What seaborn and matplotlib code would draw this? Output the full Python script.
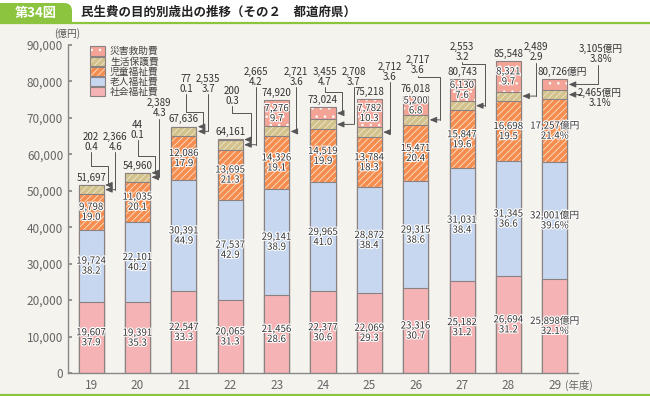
import numpy as np
import pandas as pd
import matplotlib
matplotlib.use("Agg")
import matplotlib.pyplot as plt
import seaborn as sns
from matplotlib.patches import Rectangle, FancyBboxPatch
from matplotlib import font_manager
import matplotlib.patheffects as pe

# ---------------- data ----------------
years = ["19", "20", "21", "22", "23", "24", "25", "26", "27", "28", "29"]
series_names = ["社会福祉費", "老人福祉費", "児童福祉費", "生活保護費", "災害救助費"]

shakai = [19607, 19391, 22547, 20065, 21456, 22377, 22069, 23316, 25182, 26694, 25898]
rojin = [19724, 22101, 30391, 27537, 29141, 29965, 28872, 29315, 31031, 31345, 32001]
jido = [9798, 11035, 12086, 13695, 14326, 14519, 13784, 15471, 15847, 16698, 17257]
seikatsu = [2366, 2389, 2535, 2665, 2721, 2708, 2712, 2717, 2553, 2489, 2465]
saigai = [202, 44, 77, 200, 7276, 3455, 7782, 5200, 6130, 8321, 3105]
totals = [51697, 54960, 67636, 64161, 74920, 73024, 75218, 76018, 80743, 85548, 80726]

shakai_pct = [37.9, 35.3, 33.3, 31.3, 28.6, 30.6, 29.3, 30.7, 31.2, 31.2, 32.1]
rojin_pct = [38.2, 40.2, 44.9, 42.9, 38.9, 41.0, 38.4, 38.6, 38.4, 36.6, 39.6]
jido_pct = [19.0, 20.1, 17.9, 21.3, 19.1, 19.9, 18.3, 20.4, 19.6, 19.5, 21.4]
seikatsu_pct = [4.6, 4.3, 3.7, 4.2, 3.6, 3.7, 3.6, 3.6, 3.2, 2.9, 3.1]
saigai_pct = [0.4, 0.1, 0.1, 0.3, 9.7, 4.7, 10.3, 6.8, 7.6, 9.7, 3.8]

values = [shakai, rojin, jido, seikatsu, saigai]
pcts = [shakai_pct, rojin_pct, jido_pct, seikatsu_pct, saigai_pct]

# ---------------- style ----------------
sns.set_theme(style="white")
plt.rcParams["font.family"] = ["Noto Sans CJK JP", "DejaVu Sans"]
plt.rcParams["hatch.linewidth"] = 0.6

installed = {f.name for f in font_manager.fontManager.ttflist}
if "Liberation Sans Narrow" in installed:
    NUMFAM = ["Liberation Sans Narrow", "Noto Sans CJK JP", "DejaVu Sans"]
    FS = 8.0
else:
    NUMFAM = ["Noto Sans CJK JP", "DejaVu Sans"]
    FS = 7.0

BG = "#f5f3ee"
GREEN = "#8cc43f"
EDGE = "#8a8282"
LINE = "#555555"
TXT = "#333333"
W = 0.54

styles = [
    dict(fc="#f5b3b5", hatch=None, hc=None),
    dict(fc="#c7d7ef", hatch=None, hc=None),
    dict(fc="#f58d4f", hatch="/////", hc="#fde2cf"),
    dict(fc="#d3c28c", hatch="/////", hc="#efe8cf"),
    dict(fc="#f3a497", hatch="..", hc="white"),
]

fig = plt.figure(figsize=(6.5, 3.96), dpi=100, facecolor=BG)
ax = fig.add_axes([68 / 650, 23 / 396, 510 / 650, 328 / 396])
ax.set_facecolor(BG)

vals = np.array(values, dtype=float)
cums = np.cumsum(vals, axis=0)

# stacked bars: draw cumulative heights from the top layer downward
for k in range(4, -1, -1):
    st = styles[k]
    df = pd.DataFrame({"year": years, "v": cums[k]})
    sns.barplot(data=df, x="year", y="v", color=st["fc"], saturation=1, width=W,
                errorbar=None, linewidth=0, edgecolor=st["hc"] or st["fc"],
                hatch=st["hatch"], ax=ax)
    sns.barplot(data=df, x="year", y="v", color=EDGE, fill=False, width=W,
                errorbar=None, linewidth=0.8, ax=ax)

ax.set_xlim(-0.5, 10.5)
ax.set_ylim(0, 90000)
ax.set_xlabel("")
ax.set_ylabel("")
ax.set_yticks(np.arange(0, 90001, 10000))
ax.set_yticklabels([f"{v:,}" for v in range(0, 90001, 10000)])
ax.tick_params(axis="y", direction="in", length=3, color="#888888", labelsize=8.5,
               labelcolor="#666666", pad=3.5, left=True)
ax.tick_params(axis="x", length=0, labelsize=8.5, labelcolor="#666666", pad=4)
for s in ["top", "right"]:
    ax.spines[s].set_visible(False)
for s in ["left", "bottom"]:
    ax.spines[s].set_color("#888888")
    ax.spines[s].set_linewidth(1.0)

halo = [pe.withStroke(linewidth=1.6, foreground="white")]
last = len(years) - 1


def fmt(v, p, i):
    if i == last:
        return f"{v:,}億円\n{p:.1f}%"
    return f"{v:,}\n{p:.1f}"


def num_text(x, y, s, **kw):
    kw.setdefault("ha", "center")
    kw.setdefault("va", "center")
    return ax.text(x, y, s, fontsize=FS, color=TXT, linespacing=1.0,
                   family=NUMFAM, zorder=5, **kw)


# inside labels
for k in range(5):
    for i in range(len(years)):
        v = values[k][i]
        if v < 4000:
            continue
        bottom = cums[k - 1][i] if k > 0 else 0
        mid = bottom + v / 2
        num_text(i, mid, fmt(v, pcts[k][i], i), path_effects=halo)

# totals
for i, t in enumerate(totals):
    lab = f"{t:,}億円" if i == last else f"{t:,}"
    xo = 0.17 if i == last else 0.0
    ax.annotate(lab, xy=(i + xo, t), xytext=(0, 1.5), textcoords="offset points",
                ha="center", va="bottom", fontsize=FS, color=TXT, family=NUMFAM, zorder=5)

# callouts: (year index, layer, label dx, label y, route, x_turn, y_turn)
callouts = [
    (0, 4, 0.00, 63500, "over", 0.37, 56800),
    (0, 3, 0.52, 63500, "down", None, None),
    (1, 4, 0.00, 66800, "over", 0.38, 59500),
    (1, 3, 0.47, 72600, "down", None, None),
    (2, 4, 0.05, 79400, "over", 0.41, 71600),
    (2, 3, 0.52, 79400, "down", None, None),
    (3, 4, 0.04, 76100, "over", 0.45, 71300),
    (3, 3, 0.55, 81350, "down", None, None),
    (4, 3, 0.42, 81350, "down", None, None),
    (5, 4, 0.04, 81350, "over", 0.42, 77100),
    (5, 3, 0.66, 81350, "down", None, None),
    (6, 3, 0.44, 82700, "down", None, None),
    (7, 3, 0.05, 84500, "over", 0.52, 81200),
    (8, 3, 0.00, 88100, "over", 0.49, 84800),
    (9, 3, 0.60, 87950, "down", None, None),
    (10, 4, 1.00, 87500, "down", None, None),
]
LB = 2900
ARROW = dict(arrowstyle="-|>,head_length=0.35,head_width=0.15", color=LINE, lw=0.7,
             shrinkA=0, shrinkB=0)
for (i, k, dx, ly, route, xt, yt) in callouts:
    v = values[k][i]
    bottom = cums[k - 1][i]
    ty = bottom + v / 2
    lx = i + dx
    num_text(lx, ly, fmt(v, pcts[k][i], i))
    edge = i + W / 2 + 0.03
    if route == "down":
        xl = lx if i != last else i + 0.93
        ax.plot([xl, xl], [ly - LB, ty], color=LINE, lw=0.7, clip_on=False, zorder=4)
        start = xl
    else:
        ax.plot([lx, lx, i + xt, i + xt], [ly - LB, yt, yt, ty], color=LINE, lw=0.7,
                clip_on=False, zorder=4)
        start = i + xt
    ax.annotate("", xy=(edge, ty), xytext=(start, ty), arrowprops=ARROW,
                annotation_clip=False, zorder=4)

# side callout for last year's 生活保護費
i = last
ty = cums[2][i] + values[3][i] / 2
num_text(i + 0.97, ty - 800, fmt(values[3][i], pcts[3][i], i))
ax.annotate("", xy=(i + W / 2 + 0.03, ty), xytext=(i + 0.56, ty), arrowprops=ARROW,
            annotation_clip=False, zorder=4)

# legend (drawn as patches in pixel-based inch coordinates)
row_y = [51, 61.5, 71.5, 81.5, 91.5]
for r, k in enumerate(range(4, -1, -1)):
    st = styles[k]
    yc = row_y[r]
    x0, w, h = 90 / 100, 15 / 100, 9.5 / 100
    y0 = (396 - yc) / 100 - h / 2
    fig.patches.append(Rectangle((x0, y0), w, h, transform=fig.dpi_scale_trans,
                                 facecolor=st["fc"], edgecolor=st["hc"] or st["fc"],
                                 hatch=st["hatch"], linewidth=0, zorder=2))
    fig.patches.append(Rectangle((x0, y0), w, h, transform=fig.dpi_scale_trans,
                                 facecolor="none", edgecolor=EDGE, linewidth=0.8, zorder=2))
    fig.text(110 / 650, 1 - yc / 396, series_names[k], ha="left", va="center",
             fontsize=7, color="#444444")

# axis unit labels
fig.text(67 / 650, 1 - 34 / 396, "(億円)", ha="center", va="center", fontsize=7, color="#555555")
fig.text(565 / 650, 1 - 385 / 396, "(年度)", ha="left", va="center", fontsize=7.5, color="#666666")

# header
fig.patches.append(Rectangle((0, 1 - 22 / 396), 1, 22 / 396, transform=fig.transFigure,
                             facecolor="white", edgecolor="none", zorder=0))
tab = FancyBboxPatch((0, (396 - 22) / 100), 0.72, 0.19,
                     boxstyle="round,pad=0,rounding_size=0.08",
                     transform=fig.dpi_scale_trans, facecolor=GREEN, edgecolor="none", zorder=1)
fig.patches.append(tab)
fig.patches.append(Rectangle((0, (396 - 22) / 100), 0.72, 0.1, transform=fig.dpi_scale_trans,
                             facecolor=GREEN, edgecolor="none", zorder=1))
fig.patches.append(Rectangle((0, (396 - 22) / 100), 0.3, 0.19, transform=fig.dpi_scale_trans,
                             facecolor=GREEN, edgecolor="none", zorder=1))
fig.lines.append(plt.Line2D([0, 1], [1 - 22.5 / 396, 1 - 22.5 / 396], transform=fig.transFigure,
                            color=GREEN, lw=1.6))
fig.lines.append(plt.Line2D([0, 1], [1 / 396, 1 / 396], transform=fig.transFigure,
                            color=GREEN, lw=1.6))
fig.text(36 / 650, 1 - 13 / 396, "第34図", ha="center", va="center", fontsize=9.5,
         color="white", fontweight="bold", zorder=3)
fig.text(81 / 650, 1 - 12.5 / 396, "民生費の目的別歳出の推移（その２　都道府県）", ha="left",
         va="center", fontsize=9, color="#222222", fontweight="bold", zorder=3)

fig.savefig("out.png", dpi=100, facecolor=BG)
